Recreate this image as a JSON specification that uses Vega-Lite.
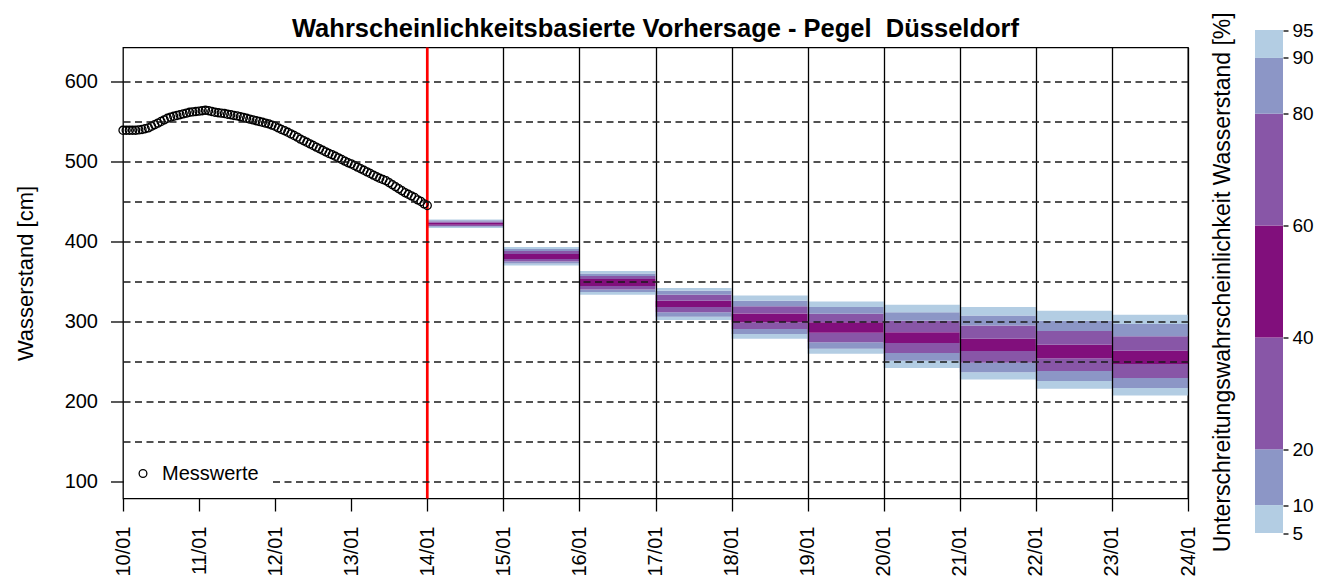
{
  "$schema": "https://vega.github.io/schema/vega-lite/v6.json",
  "padding": {"left": 13, "top": 11.5, "right": 0, "bottom": 0},
  "align": "none",
  "spacing": 12,
  "config": {
    "font": "Liberation Sans",
    "view": {"stroke": "black", "strokeWidth": 1.3},
    "axis": {"labelFont": "Liberation Sans", "titleFont": "Liberation Sans", "labelColor": "black", "titleColor": "black", "tickColor": "black", "titleFontWeight": "normal"}
  },
  "resolve": {"scale": {"shape": "independent"}, "legend": {"shape": "independent"}},
  "datasets": {
    "obs": [
      {"t": "2024-01-10T00:00", "w": 539}, {"t": "2024-01-10T01:00", "w": 539}, {"t": "2024-01-10T02:00", "w": 539}, {"t": "2024-01-10T03:00", "w": 539},
      {"t": "2024-01-10T04:00", "w": 539}, {"t": "2024-01-10T05:00", "w": 539.5}, {"t": "2024-01-10T06:00", "w": 540}, {"t": "2024-01-10T07:00", "w": 541},
      {"t": "2024-01-10T08:00", "w": 542}, {"t": "2024-01-10T09:00", "w": 544}, {"t": "2024-01-10T10:00", "w": 546}, {"t": "2024-01-10T11:00", "w": 548},
      {"t": "2024-01-10T12:00", "w": 550}, {"t": "2024-01-10T13:00", "w": 552}, {"t": "2024-01-10T14:00", "w": 554}, {"t": "2024-01-10T15:00", "w": 555.5},
      {"t": "2024-01-10T16:00", "w": 556.5}, {"t": "2024-01-10T17:00", "w": 557.5}, {"t": "2024-01-10T18:00", "w": 558.5}, {"t": "2024-01-10T19:00", "w": 559.5},
      {"t": "2024-01-10T20:00", "w": 560.5}, {"t": "2024-01-10T21:00", "w": 561.5}, {"t": "2024-01-10T22:00", "w": 562}, {"t": "2024-01-10T23:00", "w": 562.5},
      {"t": "2024-01-11T00:00", "w": 563}, {"t": "2024-01-11T01:00", "w": 563.5}, {"t": "2024-01-11T02:00", "w": 564}, {"t": "2024-01-11T03:00", "w": 563.5},
      {"t": "2024-01-11T04:00", "w": 562.5}, {"t": "2024-01-11T05:00", "w": 561.5}, {"t": "2024-01-11T06:00", "w": 561}, {"t": "2024-01-11T07:00", "w": 560.5},
      {"t": "2024-01-11T08:00", "w": 560}, {"t": "2024-01-11T09:00", "w": 559}, {"t": "2024-01-11T10:00", "w": 558.5}, {"t": "2024-01-11T11:00", "w": 557.5},
      {"t": "2024-01-11T12:00", "w": 557}, {"t": "2024-01-11T13:00", "w": 556}, {"t": "2024-01-11T14:00", "w": 555}, {"t": "2024-01-11T15:00", "w": 554},
      {"t": "2024-01-11T16:00", "w": 553}, {"t": "2024-01-11T17:00", "w": 552}, {"t": "2024-01-11T18:00", "w": 551}, {"t": "2024-01-11T19:00", "w": 550},
      {"t": "2024-01-11T20:00", "w": 549}, {"t": "2024-01-11T21:00", "w": 548}, {"t": "2024-01-11T22:00", "w": 547}, {"t": "2024-01-11T23:00", "w": 545.5},
      {"t": "2024-01-12T00:00", "w": 544}, {"t": "2024-01-12T01:00", "w": 542}, {"t": "2024-01-12T02:00", "w": 540}, {"t": "2024-01-12T03:00", "w": 538.5},
      {"t": "2024-01-12T04:00", "w": 536.5}, {"t": "2024-01-12T05:00", "w": 534.5}, {"t": "2024-01-12T06:00", "w": 532.5}, {"t": "2024-01-12T07:00", "w": 530.5},
      {"t": "2024-01-12T08:00", "w": 528}, {"t": "2024-01-12T09:00", "w": 526}, {"t": "2024-01-12T10:00", "w": 524}, {"t": "2024-01-12T11:00", "w": 522},
      {"t": "2024-01-12T12:00", "w": 520}, {"t": "2024-01-12T13:00", "w": 518}, {"t": "2024-01-12T14:00", "w": 516}, {"t": "2024-01-12T15:00", "w": 514},
      {"t": "2024-01-12T16:00", "w": 512}, {"t": "2024-01-12T17:00", "w": 510}, {"t": "2024-01-12T18:00", "w": 508.5}, {"t": "2024-01-12T19:00", "w": 506.5},
      {"t": "2024-01-12T20:00", "w": 504.5}, {"t": "2024-01-12T21:00", "w": 502.5}, {"t": "2024-01-12T22:00", "w": 500.5}, {"t": "2024-01-12T23:00", "w": 498.5},
      {"t": "2024-01-13T00:00", "w": 497}, {"t": "2024-01-13T01:00", "w": 495}, {"t": "2024-01-13T02:00", "w": 493}, {"t": "2024-01-13T03:00", "w": 491},
      {"t": "2024-01-13T04:00", "w": 489}, {"t": "2024-01-13T05:00", "w": 487}, {"t": "2024-01-13T06:00", "w": 485}, {"t": "2024-01-13T07:00", "w": 483},
      {"t": "2024-01-13T08:00", "w": 481}, {"t": "2024-01-13T09:00", "w": 479}, {"t": "2024-01-13T10:00", "w": 477.5}, {"t": "2024-01-13T11:00", "w": 476},
      {"t": "2024-01-13T12:00", "w": 473.5}, {"t": "2024-01-13T13:00", "w": 471}, {"t": "2024-01-13T14:00", "w": 468.5}, {"t": "2024-01-13T15:00", "w": 466},
      {"t": "2024-01-13T16:00", "w": 463.5}, {"t": "2024-01-13T17:00", "w": 461}, {"t": "2024-01-13T18:00", "w": 459}, {"t": "2024-01-13T19:00", "w": 457},
      {"t": "2024-01-13T20:00", "w": 455}, {"t": "2024-01-13T21:00", "w": 452}, {"t": "2024-01-13T22:00", "w": 450}, {"t": "2024-01-13T23:00", "w": 447},
      {"t": "2024-01-14T00:00", "w": 445}
    ],
    "forecast": [
      {"t": "2024-01-14T00:00", "t2": "2024-01-15T00:00", "q05": 417, "q10": 418.5, "q20": 419.5, "q40": 421, "q60": 423.5, "q80": 425, "q90": 426.5, "q95": 427.5},
      {"t": "2024-01-15T00:00", "t2": "2024-01-16T00:00", "q05": 370, "q10": 372.5, "q20": 375, "q40": 378, "q60": 384.5, "q80": 388, "q90": 390.5, "q95": 393},
      {"t": "2024-01-16T00:00", "t2": "2024-01-17T00:00", "q05": 333.5, "q10": 337, "q20": 340, "q40": 344.5, "q60": 353, "q80": 357, "q90": 360, "q95": 363},
      {"t": "2024-01-17T00:00", "t2": "2024-01-18T00:00", "q05": 302, "q10": 306, "q20": 311.5, "q40": 318, "q60": 326, "q80": 333.5, "q90": 338.5, "q95": 342},
      {"t": "2024-01-18T00:00", "t2": "2024-01-19T00:00", "q05": 278.5, "q10": 284.5, "q20": 290.5, "q40": 299, "q60": 310, "q80": 319, "q90": 326, "q95": 332.5},
      {"t": "2024-01-19T00:00", "t2": "2024-01-20T00:00", "q05": 259.6, "q10": 266, "q20": 274, "q40": 286, "q60": 299, "q80": 309.6, "q90": 318, "q95": 325},
      {"t": "2024-01-20T00:00", "t2": "2024-01-21T00:00", "q05": 242, "q10": 251, "q20": 260.5, "q40": 273, "q60": 286.5, "q80": 301, "q90": 311.5, "q95": 321},
      {"t": "2024-01-21T00:00", "t2": "2024-01-22T00:00", "q05": 227.5, "q10": 236.5, "q20": 248.5, "q40": 263, "q60": 278.5, "q80": 295, "q90": 307.5, "q95": 318},
      {"t": "2024-01-22T00:00", "t2": "2024-01-23T00:00", "q05": 216, "q10": 225.5, "q20": 238, "q40": 254, "q60": 271, "q80": 288, "q90": 301, "q95": 313.5},
      {"t": "2024-01-23T00:00", "t2": "2024-01-24T00:00", "q05": 207.5, "q10": 217, "q20": 229.5, "q40": 247, "q60": 263.5, "q80": 281.5, "q90": 297, "q95": 308.5}
    ],
    "issue": [{"t": "2024-01-14T00:00"}],
    "bands": [
      {"band": "5-10", "lo": 5, "hi": 10},
      {"band": "10-20", "lo": 10, "hi": 20},
      {"band": "20-40", "lo": 20, "hi": 40},
      {"band": "40-60", "lo": 40, "hi": 60},
      {"band": "60-80", "lo": 60, "hi": 80},
      {"band": "80-90", "lo": 80, "hi": 90},
      {"band": "90-95", "lo": 90, "hi": 95}
    ]
  },
  "hconcat": [
    {
      "vconcat": [
        {
          "width": 1065,
          "height": 451,
          "title": {"text": "Wahrscheinlichkeitsbasierte Vorhersage - Pegel \u00a0Düsseldorf", "font": "Liberation Sans", "fontSize": 25.5, "fontWeight": "bold", "color": "black", "anchor": "middle", "offset": 4},
          "encoding": {
            "x": {
              "field": "t", "type": "temporal",
              "scale": {"domain": [{"year": 2024, "month": 1, "date": 10}, {"year": 2024, "month": 1, "date": 24}], "nice": false},
              "axis": {
                "title": null, "format": "%d/%m", "tickCount": {"interval": "day", "step": 1},
                "labelAngle": 270, "labelFontSize": 20, "labelPadding": 15, "labelFlush": false, "labelOverlap": false,
                "tickSize": 12.5, "tickWidth": 1.3, "domain": false,
                "grid": true, "gridColor": "black", "gridWidth": 1.3,
                "gridOpacity": {"condition": {"test": "datum.value > datetime(2024, 0, 14, 12)", "value": 1}, "value": 0},
                "zindex": 1
              }
            }
          },
          "layer": [
            {
              "data": {"name": "forecast"},
              "encoding": {"x2": {"field": "t2"}},
              "layer": [
                {"mark": {"type": "rect", "color": "#b3cde3"}, "encoding": {
                  "y": {"field": "q05", "type": "quantitative", "title": "Wasserstand [cm]",
                    "scale": {"domain": [78.75, 642.5], "nice": false, "zero": false},
                    "axis": {
                      "titleFontSize": 22, "titlePadding": 27,
                      "values": [100, 150, 200, 250, 300, 350, 400, 450, 500, 550, 600],
                      "labelExpr": "datum.value % 100 === 0 ? datum.label : ''",
                      "labelFontSize": 20, "labelPadding": 13, "labelFlush": false, "labelOverlap": false,
                      "tickSize": 12.5, "tickWidth": 1.3,
                      "tickOpacity": {"condition": {"test": "datum.value % 100 === 0", "value": 1}, "value": 0},
                      "domain": false, "grid": true, "gridColor": "#1a1a1a", "gridDash": [7, 4.5], "gridWidth": 1.3, "zindex": 1
                    }},
                  "y2": {"field": "q10"}}},
                {"mark": {"type": "rect", "color": "#8c96c6"}, "encoding": {"y": {"field": "q10", "type": "quantitative", "title": "Wasserstand [cm]"}, "y2": {"field": "q20"}}},
                {"mark": {"type": "rect", "color": "#8856a7"}, "encoding": {"y": {"field": "q20", "type": "quantitative", "title": "Wasserstand [cm]"}, "y2": {"field": "q40"}}},
                {"mark": {"type": "rect", "color": "#810f7c"}, "encoding": {"y": {"field": "q40", "type": "quantitative", "title": "Wasserstand [cm]"}, "y2": {"field": "q60"}}},
                {"mark": {"type": "rect", "color": "#8856a7"}, "encoding": {"y": {"field": "q60", "type": "quantitative", "title": "Wasserstand [cm]"}, "y2": {"field": "q80"}}},
                {"mark": {"type": "rect", "color": "#8c96c6"}, "encoding": {"y": {"field": "q80", "type": "quantitative", "title": "Wasserstand [cm]"}, "y2": {"field": "q90"}}},
                {"mark": {"type": "rect", "color": "#b3cde3"}, "encoding": {"y": {"field": "q90", "type": "quantitative", "title": "Wasserstand [cm]"}, "y2": {"field": "q95"}}}
              ]
            },
            {
              "data": {"name": "issue"},
              "mark": {"type": "rule", "color": "#ff0000", "strokeWidth": 2.7},
              "encoding": {}
            },
            {
              "data": {"name": "obs"},
              "mark": {"type": "point", "shape": "circle", "filled": false, "color": "black", "size": 65, "strokeWidth": 1.3, "opacity": 1},
              "encoding": {
                "y": {"field": "w", "type": "quantitative", "title": "Wasserstand [cm]"},
                "shape": {"datum": "Messwerte", "type": "nominal", "scale": {"range": ["circle"]},
                  "legend": {"title": null, "orient": "none", "legendX": 1, "legendY": 402, "padding": 14, "fillColor": "white",
                    "labelFont": "Liberation Sans", "labelFontSize": 20, "labelColor": "black", "labelOffset": 9, "symbolOffset": -5,
                    "symbolSize": 60, "symbolStrokeWidth": 1.3, "symbolStrokeColor": "black", "symbolFillColor": "transparent", "zindex": 2}}
              }
            }
          ]
        }
      ]
    },
    {
      "vconcat": [
        {
          "width": 28,
          "height": 485.5,
          "view": {"stroke": null},
          "data": {"name": "bands"},
          "title": {"text": "Unterschreitungswahrscheinlichkeit Wasserstand [%]", "orient": "left", "font": "Liberation Sans", "fontSize": 23, "fontWeight": "normal", "color": "black", "anchor": "middle", "offset": 20, "dx": 8},
          "mark": {"type": "rect"},
          "encoding": {
            "y": {"field": "lo", "type": "quantitative",
              "scale": {"domain": [5, 95], "range": [485.5, -17.5], "nice": false, "zero": false},
              "axis": {"orient": "right", "title": null, "values": [5, 10, 20, 40, 60, 80, 90, 95], "domain": false, "grid": false,
                "tickSize": 5, "tickWidth": 1.3, "labelPadding": 4, "labelFontSize": 19, "labelFlush": false, "labelOverlap": false}},
            "y2": {"field": "hi"},
            "color": {"field": "band", "type": "nominal",
              "scale": {"domain": ["5-10", "10-20", "20-40", "40-60", "60-80", "80-90", "90-95"], "range": ["#b3cde3", "#8c96c6", "#8856a7", "#810f7c", "#8856a7", "#8c96c6", "#b3cde3"]},
              "legend": null}
          }
        }
      ]
    }
  ]
}
